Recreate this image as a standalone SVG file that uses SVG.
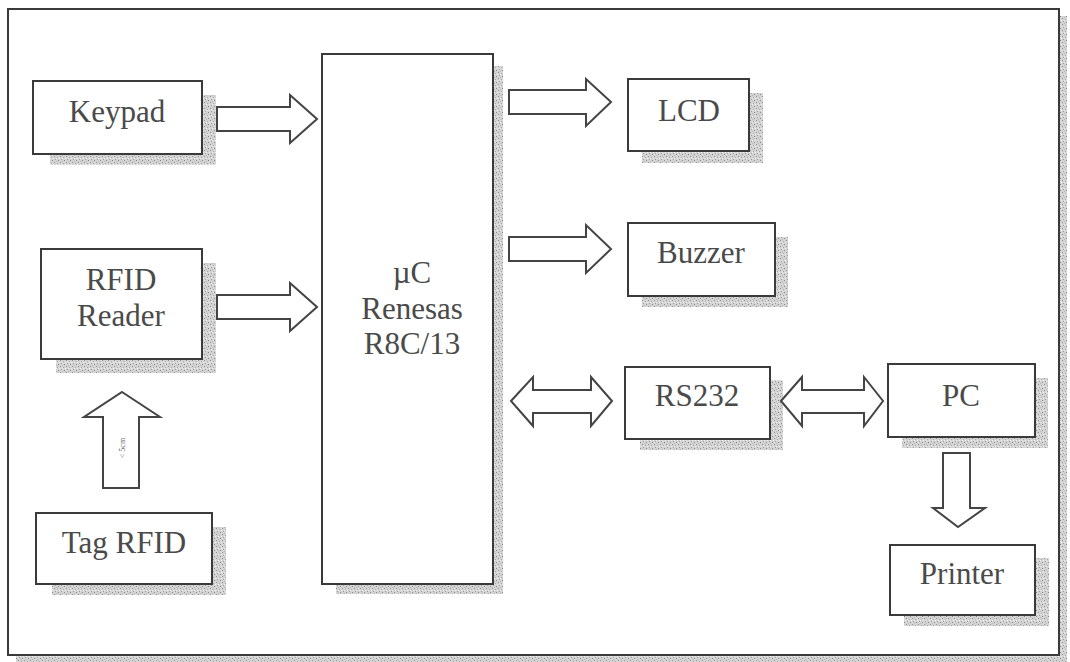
<svg xmlns="http://www.w3.org/2000/svg" width="1070" height="662" viewBox="0 0 1070 662">
  <defs>
    <pattern id="stip" width="6" height="6" patternUnits="userSpaceOnUse">
      <rect width="6" height="6" fill="#d4d4d4"/>
      <rect x="0" y="0" width="1" height="1" fill="#929292"/>
      <rect x="3" y="1" width="1" height="1" fill="#aaaaaa"/>
      <rect x="1" y="3" width="1" height="1" fill="#a0a0a0"/>
      <rect x="4" y="4" width="1" height="1" fill="#8a8a8a"/>
      <rect x="2" y="5" width="1" height="1" fill="#b8b8b8"/>
      <rect x="5" y="2" width="1" height="1" fill="#f0f0f0"/>
      <rect x="2" y="2" width="1" height="1" fill="#eeeeee"/>
    </pattern>
  </defs>
  <style>
    .box { fill: #ffffff; stroke: #3a3a3a; stroke-width: 2; }
    .shadow { fill: url(#stip); }
    .lbl { font-size: 31px; fill: #4a4a4a; text-anchor: middle; }
    .arrow { fill: #ffffff; stroke: #444444; stroke-width: 2; stroke-linejoin: miter; }
    .tiny { font-size: 8px; fill: #666666; text-anchor: middle; }
  </style>
  <rect width="1070" height="662" fill="#ffffff"/>

  <g id="frame">
    <rect x="1059" y="16" width="8" height="646" class="shadow"/>
    <rect x="16" y="655" width="1051" height="7" class="shadow"/>
    <rect x="8" y="9" width="1051" height="646" fill="#ffffff" stroke="#3a3a3a" stroke-width="2"/>
  </g>

  <g font-family="'Liberation Serif', 'DejaVu Serif', 'Times New Roman', serif">
  <g id="keypad">
    <rect x="50" y="95" width="166" height="70" class="shadow"/>
    <rect x="33" y="81" width="169" height="73" class="box"/>
    <text x="117" y="122" class="lbl">Keypad</text>
  </g>

  <g id="rfid-reader">
    <rect x="56" y="263" width="160" height="110" class="shadow"/>
    <rect x="41" y="249" width="161" height="110" class="box"/>
    <text x="121" y="290" class="lbl">RFID</text>
    <text x="121" y="326" class="lbl">Reader</text>
  </g>

  <g id="tag-rfid">
    <rect x="52" y="527" width="174" height="68" class="shadow"/>
    <rect x="36" y="513" width="176" height="71" class="box"/>
    <text x="124" y="553" class="lbl">Tag RFID</text>
  </g>

  <g id="uc">
    <rect x="336" y="66" width="167" height="528" class="shadow"/>
    <rect x="322" y="54" width="171" height="530" class="box"/>
    <text x="412" y="283" class="lbl">µC</text>
    <text x="412" y="319" class="lbl">Renesas</text>
    <text x="412" y="354" class="lbl">R8C/13</text>
  </g>

  <g id="lcd">
    <rect x="642" y="93" width="121" height="70" class="shadow"/>
    <rect x="628" y="79" width="121" height="72" class="box"/>
    <text x="689" y="121" class="lbl">LCD</text>
  </g>

  <g id="buzzer">
    <rect x="642" y="237" width="146" height="70" class="shadow"/>
    <rect x="628" y="223" width="147" height="73" class="box"/>
    <text x="701" y="263" class="lbl">Buzzer</text>
  </g>

  <g id="rs232">
    <rect x="640" y="380" width="143" height="70" class="shadow"/>
    <rect x="625" y="367" width="145" height="72" class="box"/>
    <text x="697" y="406" class="lbl">RS232</text>
  </g>

  <g id="pc">
    <rect x="902" y="378" width="146" height="70" class="shadow"/>
    <rect x="888" y="364" width="147" height="73" class="box"/>
    <text x="961" y="406" class="lbl">PC</text>
  </g>

  <g id="printer">
    <rect x="904" y="558" width="145" height="68" class="shadow"/>
    <rect x="890" y="545" width="145" height="70" class="box"/>
    <text x="962" y="584" class="lbl">Printer</text>
  </g>

  <g id="connectors">
    <polygon class="arrow" points="217,107 290,107 290,95 317,119 290,143 290,131 217,131"/>
    <polygon class="arrow" points="217,295 290,295 290,283 317,307 290,331 290,319 217,319"/>
    <polygon class="arrow" points="509,90 586,90 586,79 611,102 586,126 586,114 509,114"/>
    <polygon class="arrow" points="509,237 586,237 586,225 611,249 586,273 586,261 509,261"/>
    <polygon class="arrow" points="511,401 533,377 533,390 591,390 591,377 612,401 591,426 591,413 533,413 533,426"/>
    <polygon class="arrow" points="781,401 802,377 802,390 864,390 864,377 883,401 864,426 864,413 802,413 802,426"/>
    <polygon class="arrow" points="122,392 160,417 139,417 139,488 103,488 103,417 84,417"/>
    <text class="tiny" transform="translate(125,448) rotate(-90)">&lt; 5cm</text>
    <polygon class="arrow" points="943,453 970,453 970,508 985,508 958,527 933,508 943,508"/>
  </g>
  </g>
</svg>
